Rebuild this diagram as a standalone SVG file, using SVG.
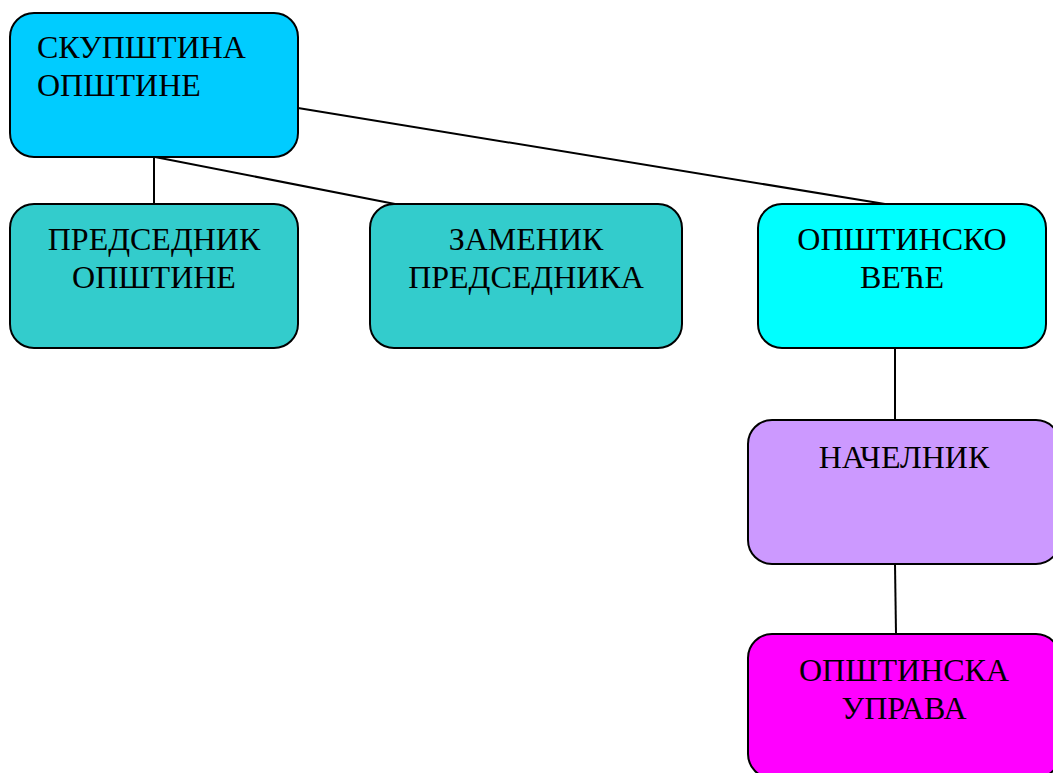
<svg xmlns="http://www.w3.org/2000/svg" width="1053" height="773" viewBox="0 0 1053 773">
<style>
.box{stroke:#000;stroke-width:2}
.lbl{font-family:"Liberation Serif","Times New Roman",serif;font-size:32px;fill:#000}
.c{text-anchor:middle}
.conn line{stroke:#000;stroke-width:2}
</style>
<rect width="1053" height="773" fill="#fff"/>
<g id="connectors" class="conn">
<line x1="154" y1="157" x2="154" y2="204"/>
<line x1="155" y1="157" x2="395" y2="204"/>
<line x1="298" y1="108" x2="885" y2="204"/>
<line x1="895" y1="348" x2="895" y2="420"/>
<line x1="895" y1="564" x2="896" y2="634"/>
</g>
<g id="skupstina">
<rect class="box" x="10" y="13" width="288" height="144" rx="24" fill="#00CCFF"/>
<text class="lbl" x="37" y="58">СКУПШТИНА</text>
<text class="lbl" x="37" y="96">ОПШТИНЕ</text>
</g>
<g id="predsednik">
<rect class="box" x="10" y="204" width="288" height="144" rx="24" fill="#33CCCC"/>
<text class="lbl c" x="154" y="250">ПРЕДСЕДНИК</text>
<text class="lbl c" x="154" y="288">ОПШТИНЕ</text>
</g>
<g id="zamenik">
<rect class="box" x="370" y="204" width="312" height="144" rx="24" fill="#33CCCC"/>
<text class="lbl c" x="526" y="250">ЗАМЕНИК</text>
<text class="lbl c" x="526" y="288">ПРЕДСЕДНИКА</text>
</g>
<g id="vece">
<rect class="box" x="758" y="204" width="288" height="144" rx="24" fill="#00FFFF"/>
<text class="lbl c" x="902" y="250">ОПШТИНСКО</text>
<text class="lbl c" x="902" y="288">ВЕЋЕ</text>
</g>
<g id="nacelnik">
<rect class="box" x="748" y="420" width="312" height="144" rx="24" fill="#CC99FF"/>
<text class="lbl c" x="904" y="468">НАЧЕЛНИК</text>
</g>
<g id="uprava">
<rect class="box" x="748" y="634" width="312" height="144" rx="24" fill="#FF00FF"/>
<text class="lbl c" x="904" y="681">ОПШТИНСКА</text>
<text class="lbl c" x="904" y="719">УПРАВА</text>
</g>
</svg>
